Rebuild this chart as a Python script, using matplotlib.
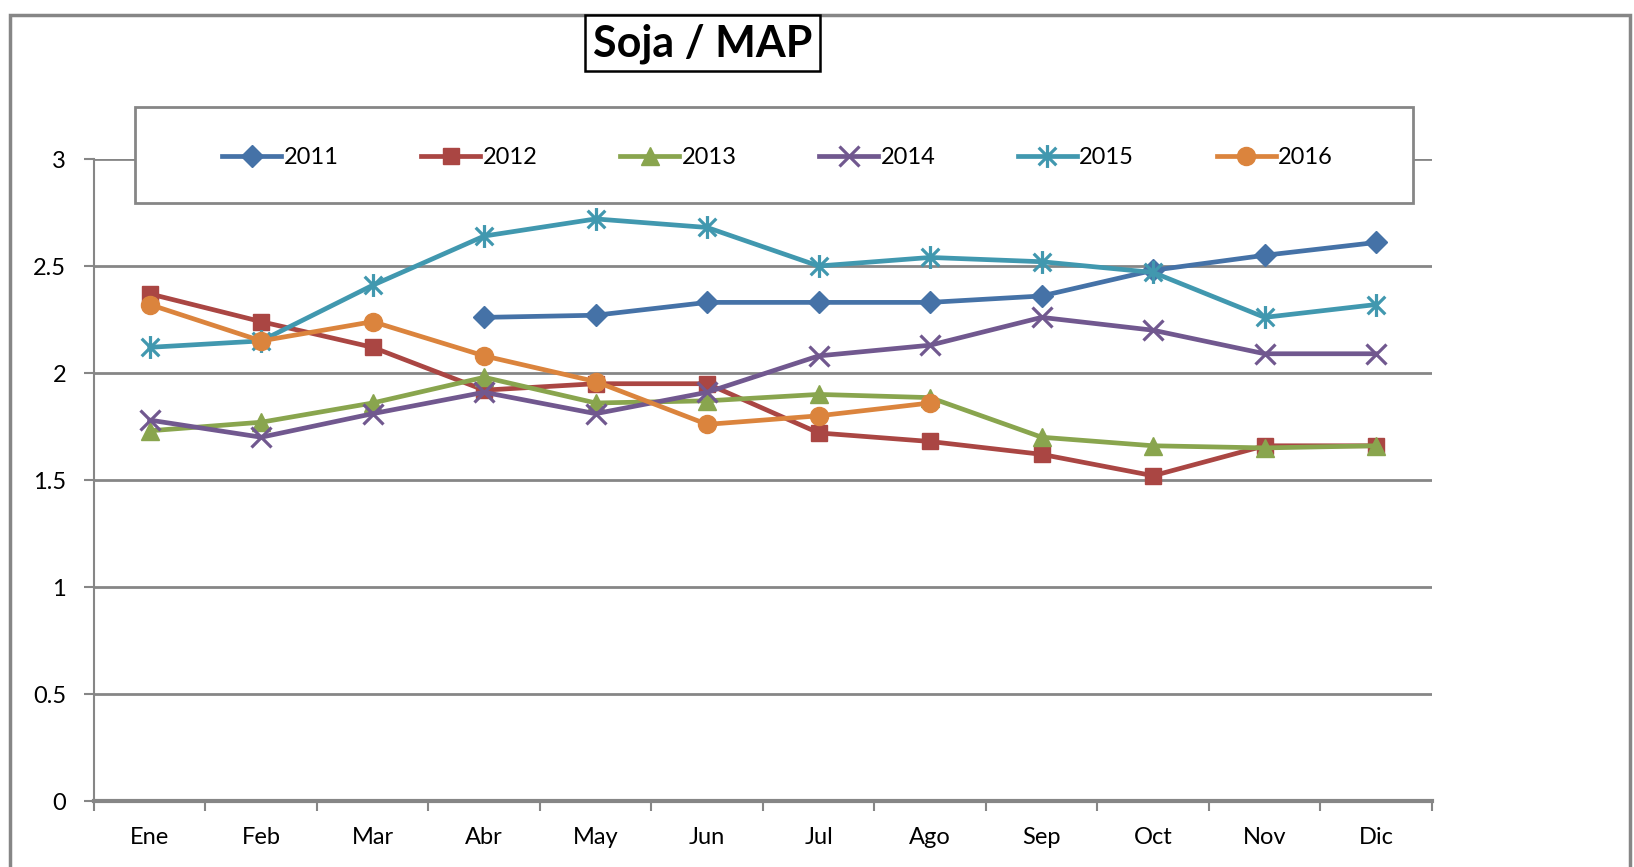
import numpy as np
import matplotlib
matplotlib.use('Agg')
import matplotlib.pyplot as plt
from matplotlib.path import Path
from matplotlib.patches import Rectangle

plt.rcParams['font.family'] = ['Lato', 'DejaVu Sans']

# data
months = ['Ene', 'Feb', 'Mar', 'Abr', 'May', 'Jun', 'Jul', 'Ago', 'Sep', 'Oct', 'Nov', 'Dic']
nan = np.nan
s2011 = [nan, nan, nan, 2.26, 2.27, 2.33, 2.33, 2.33, 2.36, 2.48, 2.55, 2.61]
s2012 = [2.37, 2.24, 2.12, 1.92, 1.95, 1.95, 1.72, 1.68, 1.62, 1.52, 1.66, 1.66]
s2013 = [1.73, 1.77, 1.86, 1.98, 1.86, 1.87, 1.90, 1.885, 1.70, 1.66, 1.65, 1.66]
s2014 = [1.78, 1.70, 1.81, 1.91, 1.81, 1.91, 2.08, 2.13, 2.26, 2.20, 2.09, 2.09]
s2015 = [2.12, 2.15, 2.41, 2.64, 2.72, 2.68, 2.50, 2.54, 2.52, 2.47, 2.26, 2.32]
s2016 = [2.32, 2.15, 2.24, 2.08, 1.96, 1.76, 1.80, 1.86, nan, nan, nan, nan]
years = ['2011', '2012', '2013', '2014', '2015', '2016']
colors = ['#4572A7', '#AA4643', '#89A54E', '#71588F', '#4198AF', '#DB843D']

# excel style asterisk: an x with a vertical bar
star = Path([(-1, -1), (1, 1), (-1, 1), (1, -1), (0, -1.3), (0, 1.3)],
            [Path.MOVETO, Path.LINETO, Path.MOVETO, Path.LINETO, Path.MOVETO, Path.LINETO])
markers = ['D', 's', '^', 'x', star, 'o']
msizes = [11.5, 12, 13.5, 14.5, 16.5, 13]

fig = plt.figure(figsize=(16.34, 8.67), dpi=100)
ax = fig.add_axes([0.0575, 0.0761, 0.8188, 0.7405])

x = np.arange(len(months))
series = [s2011, s2012, s2013, s2014, s2015, s2016]
for vals, yr, c, m, ms in zip(series, years, colors, markers, msizes):
    thin = (m == 'x') or (m is star)
    ax.plot(x, vals, color=c, lw=3.4, marker=m, markersize=ms,
            markeredgewidth=2.3 if thin else 1,
            markeredgecolor=c, markerfacecolor=c, label=yr, zorder=3)

ax.set_xlim(-0.5, 11.5)
ax.set_ylim(0, 3)
ax.set_yticks(np.arange(0, 3.01, 0.5))
ax.yaxis.set_major_formatter(plt.FuncFormatter(lambda v, p: '%g' % v))
ax.set_xticks(x)
ax.set_xticklabels(months)
ax.set_xticks(np.arange(-0.5, 12, 1), minor=True)
ax.tick_params(axis='x', which='major', length=0, pad=19, labelsize=17)
ax.tick_params(axis='x', which='minor', length=7, width=1.5, color='#868686', direction='out')
ax.tick_params(axis='y', length=7, width=1.5, color='#868686', pad=13, labelsize=17)

ax.grid(axis='y', color='#868686', lw=2, zorder=0)
for side in ['top', 'right']:
    ax.spines[side].set_visible(False)
ax.spines['left'].set_color('#868686')
ax.spines['left'].set_linewidth(1.5)
ax.spines['bottom'].set_color('#868686')
ax.spines['bottom'].set_linewidth(3)

# legend box drawn above the top gridline
fig.patches.append(Rectangle((135 / 1634, 1 - 203 / 867), 1278 / 1634, 96 / 867,
                             transform=fig.transFigure, facecolor='white',
                             edgecolor='#868686', lw=2, zorder=5))
leg = fig.legend(loc='center', bbox_to_anchor=(0.476, 0.8178), ncol=6, frameon=False,
                 fontsize=17, handlelength=2.5, handletextpad=0.1, columnspacing=3.5)
leg.set_zorder(6)

# title box
fig.text(0.430, 0.950, 'Soja / MAP', fontsize=31, fontweight='bold', ha='center', va='center',
         bbox=dict(boxstyle='square,pad=0.18', facecolor='white', edgecolor='black', lw=1.8))

# chart outer border
fig.patches.append(Rectangle((10 / 1634, -0.05), 1620 / 1634, 1.05 - 15 / 867,
                             transform=fig.transFigure, facecolor='none',
                             edgecolor='#868686', lw=2.5))

fig.savefig('out.png', dpi=100)
